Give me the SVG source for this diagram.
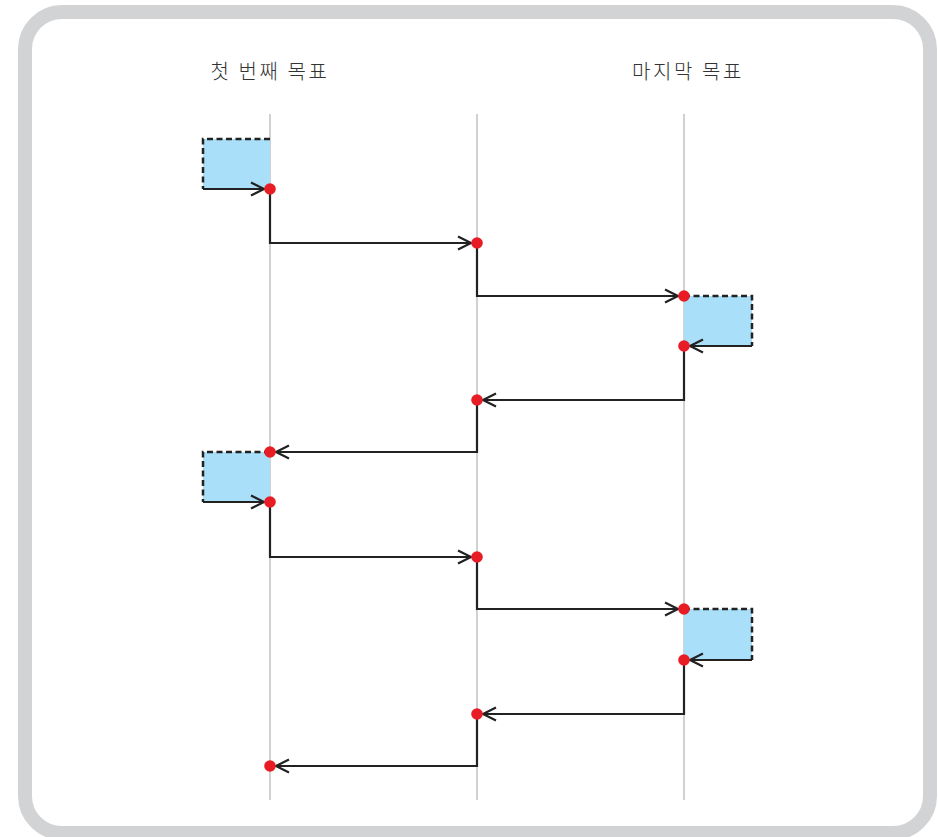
<svg xmlns="http://www.w3.org/2000/svg" width="938" height="837" viewBox="0 0 938 837">
<style>
.frame{fill:#ffffff;stroke:#d2d3d5;stroke-width:14}
.life{stroke:#c2c2c4;stroke-width:1.5;fill:none}
.lbl{font-family:"Noto Sans CJK KR","Noto Sans",sans-serif;font-size:20px;font-weight:300;fill:#333333;text-anchor:middle;letter-spacing:2.6px}
.box{fill:#aadff9;stroke:none}
.dash{fill:none;stroke:#222;stroke-width:2.5;stroke-dasharray:6 3.5}
.conn{fill:none;stroke:#222;stroke-width:2.2;marker-end:url(#arr)}
.dot{fill:#e81c24}
</style>
<defs>
<marker id="arr" markerUnits="userSpaceOnUse" markerWidth="20" markerHeight="20" viewBox="-16 -10 20 20" refX="0" refY="0" orient="auto">
<path d="M-13,-6.5 L0,0 L-13,6.5" fill="none" stroke="#222" stroke-width="2.2"/>
</marker>
</defs>
<rect class="frame" x="25" y="12" width="905" height="821" rx="37" ry="37"/>
<g id="lifelines">
<line class="life" x1="270" y1="114" x2="270" y2="800"/>
<line class="life" x1="477" y1="114" x2="477" y2="800"/>
<line class="life" x1="684" y1="114" x2="684" y2="800"/>
</g>
<g id="label-first"><text class="lbl" x="270" y="79">첫 번째 목표</text></g>
<g id="label-last"><text class="lbl" x="688" y="79">마지막 목표</text></g>
<g id="box1"><rect class="box" x="203" y="139" width="67" height="50"/><path class="dash" d="M270,139 H203 V189"/></g>
<g id="box2"><rect class="box" x="684" y="296" width="68" height="50"/><path class="dash" d="M684,296 H752 V346"/></g>
<g id="box3"><rect class="box" x="203" y="452" width="67" height="50"/><path class="dash" d="M270,452 H203 V502"/></g>
<g id="box4"><rect class="box" x="684" y="609" width="68" height="51"/><path class="dash" d="M684,609 H752 V660"/></g>
<g id="connectors">
<path class="conn" d="M203,189 H264"/>
<path class="conn" d="M270,189 V243 H471"/>
<path class="conn" d="M477,243 V296 H678"/>
<path class="conn" d="M752,346 H690"/>
<path class="conn" d="M684,346 V400 H483"/>
<path class="conn" d="M477,400 V452 H276"/>
<path class="conn" d="M203,502 H264"/>
<path class="conn" d="M270,502 V557 H471"/>
<path class="conn" d="M477,557 V609 H678"/>
<path class="conn" d="M752,660 H690"/>
<path class="conn" d="M684,660 V714 H483"/>
<path class="conn" d="M477,714 V766 H276"/>
</g>
<g id="points">
<circle class="dot" cx="270" cy="189" r="5.8"/>
<circle class="dot" cx="477" cy="243" r="5.8"/>
<circle class="dot" cx="684" cy="296" r="5.8"/>
<circle class="dot" cx="684" cy="346" r="5.8"/>
<circle class="dot" cx="477" cy="400" r="5.8"/>
<circle class="dot" cx="270" cy="452" r="5.8"/>
<circle class="dot" cx="270" cy="502" r="5.8"/>
<circle class="dot" cx="477" cy="557" r="5.8"/>
<circle class="dot" cx="684" cy="609" r="5.8"/>
<circle class="dot" cx="684" cy="660" r="5.8"/>
<circle class="dot" cx="477" cy="714" r="5.8"/>
<circle class="dot" cx="270" cy="766" r="5.8"/>
</g>
</svg>
